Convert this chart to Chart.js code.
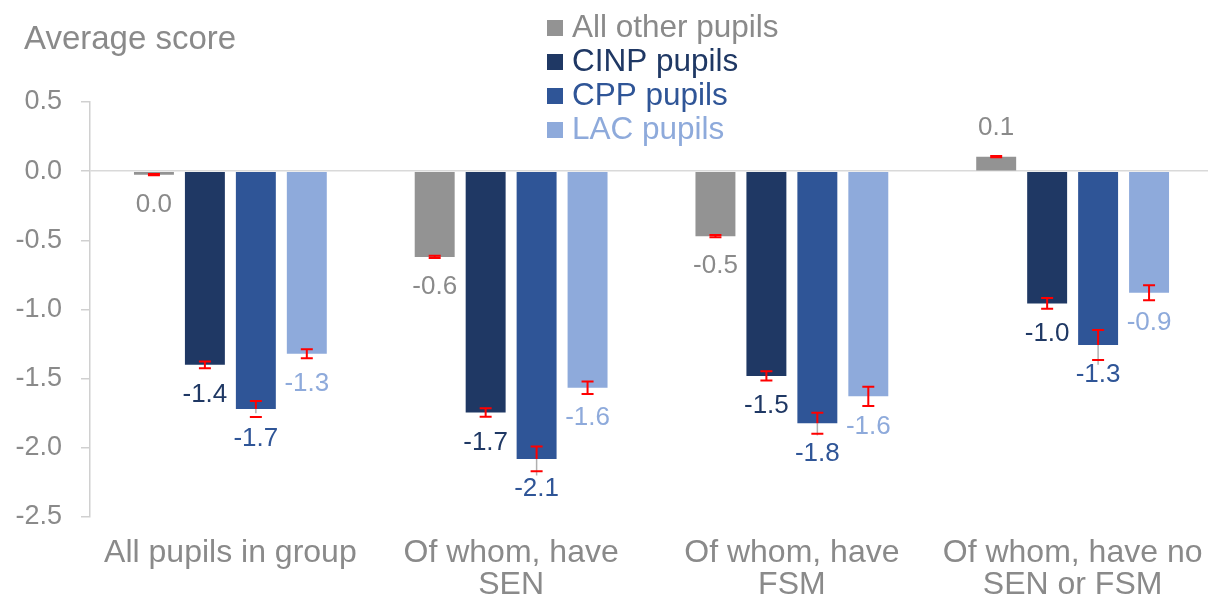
<!DOCTYPE html>
<html lang="en">
<head>
  <meta charset="UTF-8">
  <title>Average score</title>
  <script src="https://cdn.jsdelivr.net/npm/chart.js"></script>
  <style>
    body {
      margin: 0;
      overflow: hidden;
      background: #fff;
    }
  </style>
</head>
<body>
  <canvas id="scoreChart" width="1214" height="604"></canvas>

  <script>
    // Chart data
    const categories = [
      ['All pupils in group'],
      ['Of whom, have', 'SEN'],
      ['Of whom, have', 'FSM'],
      ['Of whom, have no', 'SEN or FSM']
    ];
    const seriesNames = ['All other pupils', 'CINP pupils', 'CPP pupils', 'LAC pupils'];
    const otherPupils = [-0.025, -0.62, -0.47, 0.105];
    const cinpPupils = [-1.40, -1.745, -1.48, -0.956];
    const cppPupils = [-1.72, -2.08, -1.823, -1.257];
    const lacPupils = [-1.32, -1.565, -1.628, -0.879];
    // half-width of the confidence intervals
    const otherErr = [0.005, 0.008, 0.008, 0.005];
    const cinpErr = [0.025, 0.031, 0.034, 0.039];
    const cppErr = [0.058, 0.089, 0.076, 0.108];
    const lacErr = [0.033, 0.045, 0.07, 0.055];
    // lower end of the grey whisker shown under the CPP bars
    const cppGreyLow = [-1.75, -2.2, -1.91, -1.40];
    const yTicks = [0.5, 0.0, -0.5, -1.0, -1.5, -2.0, -2.5];

    const colors = ['#939393', '#1f3864', '#2f5597', '#8eaadb'];
    const textGrey = '#8a8a8a';
    const labelColors = [textGrey, '#1f3864', '#2f5597', '#8eaadb'];
    const FONT = '"Liberation Sans", Arial, sans-serif';

    const seriesValues = [otherPupils, cinpPupils, cppPupils, lacPupils];
    const seriesErr = [otherErr, cinpErr, cppErr, lacErr];

    const fmt = v => {
      const s = v.toFixed(1);
      return s === '-0.0' ? '0.0' : s;
    };

    // error bars + value labels, title and legend
    const extrasPlugin = {
      id: 'extras',
      afterDatasetsDraw(chart) {
        const ctx = chart.ctx;
        const y = chart.scales.y;
        chart.data.datasets.forEach((ds, i) => {
          const meta = chart.getDatasetMeta(i);
          meta.data.forEach((bar, j) => {
            const v = ds.data[j];
            const e = seriesErr[i][j];
            const x = bar.x;
            const yHi = y.getPixelForValue(v + e);
            const yLo = y.getPixelForValue(v - e);
            ctx.save();
            if (i === 2) {
              ctx.strokeStyle = '#b0b0b0';
              ctx.lineWidth = 1.5;
              ctx.beginPath();
              ctx.moveTo(x, y.getPixelForValue(v));
              ctx.lineTo(x, y.getPixelForValue(cppGreyLow[j]));
              ctx.stroke();
            }
            ctx.strokeStyle = '#ff0000';
            ctx.lineWidth = 2;
            ctx.beginPath();
            const stemEnd = i === 2 ? y.getPixelForValue(v) : yLo;
            ctx.moveTo(x, yHi);
            ctx.lineTo(x, stemEnd);
            ctx.moveTo(x - 6, yHi);
            ctx.lineTo(x + 6, yHi);
            ctx.moveTo(x - 6, yLo);
            ctx.lineTo(x + 6, yLo);
            ctx.stroke();

            // value label
            ctx.fillStyle = labelColors[i];
            ctx.font = '26px ' + FONT;
            ctx.textAlign = 'center';
            ctx.textBaseline = 'middle';
            const end = y.getPixelForValue(v);
            const ly = v < 0 ? end + 30 : end - 29;
            ctx.fillText(fmt(v), x, ly);
            ctx.restore();
          });
        });
      },
      afterDraw(chart) {
        const ctx = chart.ctx;
        ctx.save();
        // axis title
        ctx.fillStyle = textGrey;
        ctx.font = '33px ' + FONT;
        ctx.textAlign = 'left';
        ctx.textBaseline = 'alphabetic';
        ctx.fillText('Average score', 24, 49);
        // legend
        chart.data.datasets.forEach((ds, i) => {
          const base = 37 + i * 34;
          ctx.fillStyle = ds.backgroundColor;
          ctx.fillRect(547, base - 17, 16, 16);
          ctx.fillStyle = labelColors[i];
          ctx.font = '31.5px ' + FONT;
          ctx.fillText(ds.label, 572, base);
        });
        ctx.restore();
      }
    };

    new Chart(document.getElementById('scoreChart'), {
      type: 'bar',
      data: {
        labels: categories,
        datasets: seriesNames.map((name, i) => ({
          label: name,
          data: seriesValues[i],
          backgroundColor: colors[i],
          categoryPercentage: 0.726,
          barPercentage: 0.784
        }))
      },
      options: {
        responsive: false,
        animation: false,
        layout: { padding: { top: 102, right: 1, left: 0, bottom: 0 } },
        plugins: {
          legend: { display: false },
          tooltip: { enabled: false }
        },
        scales: {
          x: {
            grid: { display: false, drawTicks: false },
            border: { display: false },
            ticks: {
              color: textGrey,
              font: { family: FONT, size: 32, lineHeight: 1.0 },
              padding: 20,
              maxRotation: 0,
              autoSkip: false
            },
            afterFit(scale) {
              scale.height = 87;
              scale.paddingLeft = 0;
              scale.paddingRight = 0;
            }
          },
          y: {
            min: -2.5,
            max: 0.5,
            afterBuildTicks(scale) {
              scale.ticks = yTicks.map(v => ({ value: v }));
            },
            grid: {
              color: ctx => (ctx.tick && ctx.tick.value === 0 ? '#d9d9d9' : 'rgba(0,0,0,0)'),
              tickColor: '#d0d0d0',
              tickLength: 9,
              lineWidth: 1.5
            },
            border: { display: true, color: '#d0d0d0', width: 1.5 },
            ticks: {
              color: textGrey,
              font: { family: FONT, size: 27 },
              padding: 19,
              callback: v => v.toFixed(1)
            },
            afterFit(scale) { scale.width = 90; }
          }
        }
      },
      plugins: [extrasPlugin]
    });
  </script>
</body>
</html>
